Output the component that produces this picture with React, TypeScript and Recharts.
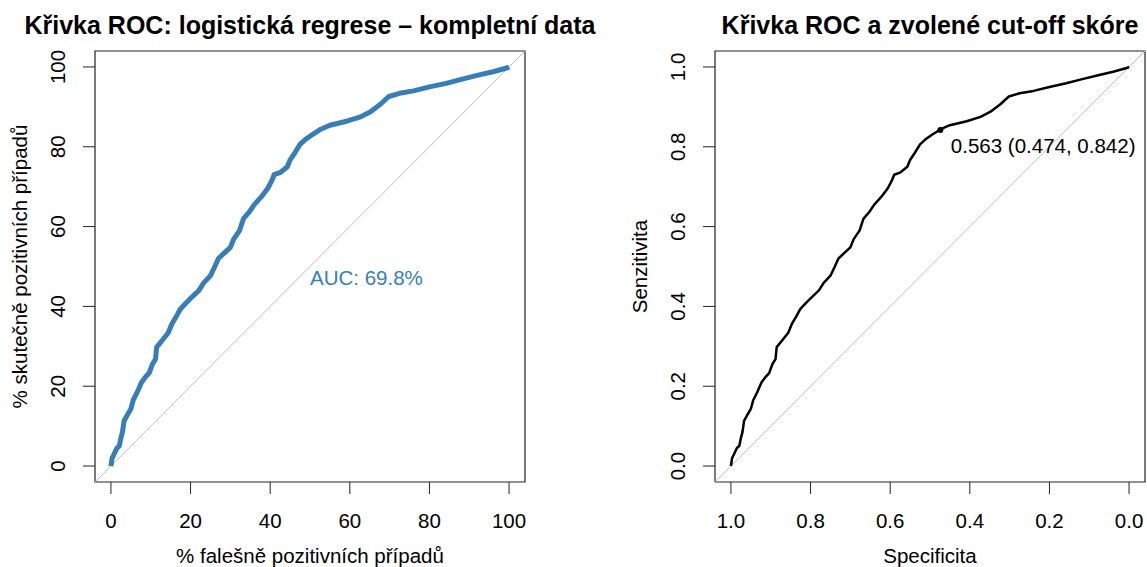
import { LineChart, Line, XAxis, YAxis, ReferenceLine, ReferenceArea, ReferenceDot, Label } from "recharts";

// ROC curve: % false positives vs % true positives
const fprPct = [
  0, 0.3, 0.8, 1.5, 2.1, 2.5, 2.9, 3.3, 4, 5, 5.6, 6.6, 7.7, 8.6, 9.6, 10.4, 11.2, 11.5, 12.8, 14.4,
  15.3, 16.6, 17.4, 18.8, 20.4, 22.1, 23.3, 25, 26.1, 27, 28.5, 30, 30.8, 32.3, 33.3, 34.7, 36, 37.8,
  39.4, 40.4, 41, 42.6, 44.3, 45, 46.2, 47.5, 48.8, 50.5, 52.7, 55, 59.2, 62.7, 65.2, 67.6, 69.8, 72.5,
  76, 80, 84.2, 88, 92.5, 96, 99.6, 100,
];
const tprPct = [
  0, 2, 3, 4.5, 5, 7, 8.5, 11.3, 12.6, 14.3, 16.5, 18.5, 21, 22.2, 23.3, 25.5, 26.8, 29.8, 31.4, 33.4,
  35.6, 37.8, 39.3, 40.8, 42.4, 44, 45.9, 47.7, 50, 52, 53.4, 54.8, 56.8, 59, 62, 63.6, 65.5, 67.5,
  69.6, 71.5, 73, 73.6, 75, 76.7, 78.5, 80.6, 81.8, 83, 84.4, 85.4, 86.4, 87.5, 88.8, 90.6, 92.6, 93.4,
  94, 95, 95.9, 96.9, 98, 98.8, 99.8, 100,
];

const pctTicks = [0, 20, 40, 60, 80, 100];
const unitTicks = [0, 0.2, 0.4, 0.6, 0.8, 1];
const aucLabel = "AUC: 69.8%";
const cutoffSpec = 0.474;
const cutoffSens = 0.842;
const cutoffLabel = "0.563 (0.474, 0.842)";

const leftData = fprPct.map((x, i) => ({ x, y: tprPct[i] }));
const rightData = fprPct.map((x, i) => ({ spec: 1 - x / 100, sens: tprPct[i] / 100 }));

const FONT = "'Liberation Sans', Arial, sans-serif";
const FS = 20.5;
const BLUE = "#377EB8";
const INK = "#222";

const axisCommon = {
  axisLine: false,
  tickSize: 12,
  tickLine: { stroke: INK },
} as const;

function rotatedTick(fmt: (v: number) => string) {
  return (props: any) => {
    const { x, y, payload } = props;
    return (
      <text x={x} y={y} transform={`rotate(-90 ${x} ${y})`} textAnchor="middle" fontSize={FS} fill="#000">
        {fmt(payload.value)}
      </text>
    );
  };
}

function yTitle(text: string) {
  return (props: any) => {
    const vb = props.viewBox;
    const x = vb.x + vb.width - 68;
    const y = vb.y + vb.height / 2;
    return (
      <text x={x} y={y} transform={`rotate(-90 ${x} ${y})`} textAnchor="middle" fontSize={FS} fill="#000">
        {text}
      </text>
    );
  };
}

function xTitle(text: string) {
  return (props: any) => {
    const vb = props.viewBox;
    return (
      <text x={vb.x + vb.width / 2} y={vb.y + 81} textAnchor="middle" fontSize={FS} fill="#000">
        {text}
      </text>
    );
  };
}

const titleStyle = {
  position: "absolute",
  top: 13,
  width: 600,
  textAlign: "center",
  fontWeight: "bold",
  fontSize: 25,
  lineHeight: "25px",
  whiteSpace: "nowrap",
} as const;

function LeftRoc() {
  return (
    <LineChart width={573} height={567} data={leftData} margin={{ top: 51, right: 48, bottom: 25, left: 35 }}>
      <XAxis
        dataKey="x"
        type="number"
        domain={[-4, 104]}
        ticks={pctTicks}
        allowDataOverflow
        height={60}
        tickMargin={19}
        tick={{ fontSize: FS, fill: "#000" }}
        {...axisCommon}
      >
        <Label content={xTitle("% falešně pozitivních případů")} />
      </XAxis>
      <YAxis
        type="number"
        domain={[-4, 104]}
        ticks={pctTicks}
        allowDataOverflow
        width={60}
        tickMargin={17.5}
        tick={rotatedTick((v) => String(v))}
        {...axisCommon}
      >
        <Label content={yTitle("% skutečně pozitivních případů")} />
      </YAxis>
      <ReferenceLine
        segment={[{ x: -4, y: -4 }, { x: 104, y: 104 }]}
        stroke="#BEBEBE"
        strokeWidth={1}
      />
      <Line
        dataKey="y"
        type="linear"
        stroke={BLUE}
        strokeWidth={5}
        strokeLinejoin="round"
        dot={false}
        isAnimationActive={false}
      />
      <ReferenceDot
        x={50}
        y={50}
        r={0}
        label={(p: any) => (
          <text x={p.viewBox.x} y={p.viewBox.y + 18} fontSize={FS} fill={BLUE}>
            {aucLabel}
          </text>
        )}
      />
      <ReferenceArea x1={-4} x2={104} y1={-4} y2={104} fill="none" stroke={INK} strokeWidth={1.2} />
    </LineChart>
  );
}

function RightRoc() {
  return (
    <LineChart width={574} height={567} data={rightData} margin={{ top: 51, right: 2, bottom: 25, left: 82 }}>
      <XAxis
        dataKey="spec"
        type="number"
        domain={[-0.04, 1.04]}
        ticks={unitTicks}
        reversed
        allowDataOverflow
        height={60}
        tickMargin={19}
        tickFormatter={(v: number) => v.toFixed(1)}
        tick={{ fontSize: FS, fill: "#000" }}
        {...axisCommon}
      >
        <Label content={xTitle("Specificita")} />
      </XAxis>
      <YAxis
        type="number"
        domain={[-0.04, 1.04]}
        ticks={unitTicks}
        allowDataOverflow
        width={60}
        tickMargin={17.5}
        tick={rotatedTick((v) => v.toFixed(1))}
        {...axisCommon}
      >
        <Label content={yTitle("Senzitivita")} />
      </YAxis>
      <ReferenceLine
        segment={[{ x: 1.04, y: -0.04 }, { x: -0.04, y: 1.04 }]}
        stroke="#BEBEBE"
        strokeWidth={1}
      />
      <Line
        dataKey="sens"
        type="linear"
        stroke="#000"
        strokeWidth={2.5}
        strokeLinejoin="round"
        dot={false}
        isAnimationActive={false}
      />
      <ReferenceDot
        x={cutoffSpec}
        y={cutoffSens}
        r={3}
        fill="#000"
        stroke="none"
        label={(p: any) => (
          <text
            x={p.viewBox.x + p.viewBox.width / 2 + 10.5}
            y={p.viewBox.y + p.viewBox.height / 2 + 22.7}
            fontSize={FS}
            fill="#000"
          >
            {cutoffLabel}
          </text>
        )}
      />
      <ReferenceArea x1={-0.04} x2={1.04} y1={-0.04} y2={1.04} fill="none" stroke={INK} strokeWidth={1.2} />
    </LineChart>
  );
}

export default function App() {
  return (
    <div
      style={{
        position: "absolute",
        left: 0,
        top: 0,
        width: 1147,
        height: 567,
        background: "#fff",
        fontFamily: FONT,
        overflow: "hidden",
      }}
    >
      <div style={{ ...titleStyle, left: 10 }}>Křivka ROC: logistická regrese – kompletní data</div>
      <div style={{ ...titleStyle, left: 630 }}>Křivka ROC a zvolené cut-off skóre</div>
      <div style={{ position: "absolute", left: 0, top: 0 }}>
        <LeftRoc />
      </div>
      <div style={{ position: "absolute", left: 573, top: 0 }}>
        <RightRoc />
      </div>
    </div>
  );
}
